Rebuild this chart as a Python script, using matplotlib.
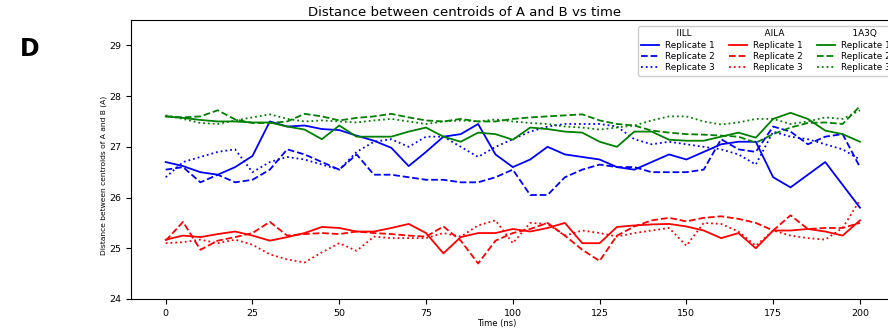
import numpy as np
import matplotlib.pyplot as plt
from matplotlib.lines import Line2D

# time axis (ns), one point every 5 ns
time_ns = list(range(0, 201, 5))

# IILL (blue)
iill_rep1 = [26.7, 26.62, 26.5, 26.45, 26.6, 26.82, 27.5, 27.4, 27.42, 27.35,
             27.33, 27.22, 27.12, 26.98, 26.62, 26.9, 27.2, 27.25, 27.45, 26.85,
             26.6, 26.75, 27.0, 26.85, 26.8, 26.75, 26.6, 26.55, 26.7, 26.85,
             26.75, 26.9, 27.05, 27.1, 27.1, 26.4, 26.2, 26.45, 26.7, 26.25, 25.8]
iill_rep2 = [26.55, 26.6, 26.3, 26.45, 26.3, 26.35, 26.55, 26.95, 26.85, 26.7,
             26.55, 26.85, 26.45, 26.45, 26.4, 26.35, 26.35, 26.3, 26.3, 26.4,
             26.55, 26.05, 26.05, 26.4, 26.55, 26.65, 26.6, 26.6, 26.5, 26.5,
             26.5, 26.55, 27.15, 26.95, 26.9, 27.4, 27.3, 27.05, 27.2, 27.25, 26.6]
iill_rep3 = [26.4, 26.7, 26.8, 26.9, 26.95, 26.5, 26.7, 26.8, 26.75, 26.65,
             26.55, 26.9, 27.1, 27.15, 27.0, 27.2, 27.2, 27.0, 26.8, 27.0,
             27.15, 27.3, 27.4, 27.45, 27.45, 27.45, 27.4, 27.15, 27.05, 27.1,
             27.05, 27.0, 26.95, 26.85, 26.65, 27.3, 27.2, 27.15, 27.05, 26.95, 26.75]

# AILA (red)
aila_rep1 = [25.17, 25.25, 25.22, 25.28, 25.33, 25.25, 25.15, 25.22, 25.3, 25.42,
             25.4, 25.33, 25.33, 25.4, 25.48, 25.3, 24.9, 25.22, 25.3, 25.3,
             25.38, 25.33, 25.4, 25.5, 25.1, 25.1, 25.42, 25.45, 25.47, 25.48,
             25.43, 25.35, 25.2, 25.3, 25.0, 25.35, 25.35, 25.38, 25.33, 25.25, 25.55]
aila_rep2 = [25.15, 25.52, 24.97, 25.15, 25.22, 25.3, 25.52, 25.25, 25.28, 25.3,
             25.28, 25.33, 25.3, 25.28, 25.25, 25.23, 25.43, 25.15, 24.7, 25.15,
             25.3, 25.38, 25.5, 25.25, 24.97, 24.75, 25.25, 25.43, 25.55, 25.6,
             25.53, 25.6, 25.63, 25.58, 25.5, 25.35, 25.65, 25.38, 25.4, 25.4, 25.5]
aila_rep3 = [25.1, 25.12, 25.17, 25.1, 25.17, 25.07, 24.88, 24.78, 24.72, 24.92,
             25.1, 24.95, 25.23, 25.2, 25.2, 25.2, 25.3, 25.23, 25.45, 25.55,
             25.1, 25.5, 25.48, 25.25, 25.35, 25.3, 25.23, 25.3, 25.35, 25.4,
             25.05, 25.5, 25.48, 25.33, 25.05, 25.35, 25.25, 25.2, 25.17, 25.4, 25.95]

# 1A3Q (green)
a3q_rep1 = [27.6, 27.57, 27.53, 27.5, 27.5, 27.48, 27.48, 27.4, 27.34, 27.15,
            27.42, 27.2, 27.2, 27.2, 27.3, 27.38, 27.2, 27.1, 27.28, 27.25,
            27.14, 27.38, 27.35, 27.3, 27.28, 27.1, 27.0, 27.3, 27.3, 27.14,
            27.12, 27.12, 27.2, 27.28, 27.18, 27.55, 27.67, 27.55, 27.32, 27.25, 27.1]
a3q_rep2 = [27.6, 27.58, 27.6, 27.72, 27.54, 27.47, 27.47, 27.5, 27.65, 27.6,
            27.52, 27.57, 27.6, 27.65, 27.58, 27.52, 27.5, 27.55, 27.5, 27.5,
            27.55, 27.58, 27.6, 27.62, 27.64, 27.52, 27.45, 27.42, 27.32, 27.28,
            27.25, 27.24, 27.22, 27.2, 27.08, 27.25, 27.38, 27.47, 27.48, 27.45, 27.8]
a3q_rep3 = [27.62, 27.55, 27.47, 27.45, 27.52, 27.58, 27.64, 27.55, 27.5, 27.52,
            27.5, 27.48, 27.52, 27.55, 27.5, 27.45, 27.5, 27.52, 27.5, 27.54,
            27.5, 27.47, 27.45, 27.4, 27.38, 27.34, 27.38, 27.42, 27.52, 27.6,
            27.6, 27.5, 27.44, 27.48, 27.55, 27.55, 27.45, 27.5, 27.58, 27.55, 27.72]

systems = ['IILL', 'AILA', '1A3Q']
colors = ['blue', 'red', 'green']
replicates = ['Replicate 1', 'Replicate 2', 'Replicate 3']
styles = ['-', '--', ':']
data = [[iill_rep1, iill_rep2, iill_rep3],
        [aila_rep1, aila_rep2, aila_rep3],
        [a3q_rep1, a3q_rep2, a3q_rep3]]

fig = plt.figure(figsize=(8.88, 3.29), dpi=100)
ax = fig.add_axes([0.1475, 0.0912, 0.86, 0.848])

handles, labels = [], []
for name, col, reps in zip(systems, colors, data):
    handles.append(Line2D([], [], color='none'))
    labels.append('    ' + name)
    for rep, ls, y in zip(replicates, styles, reps):
        ln, = ax.plot(time_ns, y, color=col, linestyle=ls, linewidth=1.3)
        handles.append(ln)
        labels.append(rep)

ax.set_xlim(-10, 210)
ax.set_ylim(24, 29.5)
ax.set_xticks(range(0, 201, 25))
ax.set_yticks(range(24, 30))
ax.tick_params(labelsize=6.8)
ax.set_xlabel('Time (ns)', fontsize=6, x=0.479, labelpad=1)
ax.set_ylabel('Distance between centroids of A and B (A)', fontsize=5.4)
ax.yaxis.set_label_coords(-0.032, 0.444)
ax.set_title('Distance between centroids of A and B vs time', fontsize=9.5, x=0.437, pad=3)

ax.legend(handles, labels, ncol=3, fontsize=6.4, loc='upper left',
          bbox_to_anchor=(0.658, 0.995), handlelength=2.0, handletextpad=0.6,
          columnspacing=1.7, labelspacing=0.25, borderpad=0.4, framealpha=1)

fig.text(0.022, 0.83, 'D', fontsize=17, fontweight='bold')

fig.savefig('out.png', dpi=100)
